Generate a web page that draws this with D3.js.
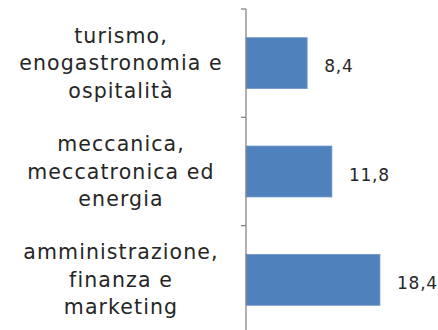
<!DOCTYPE html>
<html>
<head>
<meta charset="utf-8">
<script src="https://cdn.jsdelivr.net/npm/d3@7"></script>
<style>
  html, body { margin: 0; padding: 0; background: #fff; }
  svg { display: block; }
</style>
</head>
<body>
<svg id="chart" width="438" height="330"></svg>
<script>
// Categories (top to bottom) and their values
const categories = [
  ["turismo,", "enogastronomia e", "ospitalità"],
  ["meccanica,", "meccatronica ed", "energia"],
  ["amministrazione,", "finanza e", "marketing"]
];
const values = [8.4, 11.8, 18.4];
const valueLabels = ["8,4", "11,8", "18,4"];

const svg = d3.select("#chart");
const axisX = 246;
const fontFamily = "'DejaVu Sans', sans-serif";

const y = d3.scaleBand()
  .domain(d3.range(categories.length))
  .range([9, 334])
  .paddingInner(0.53)
  .paddingOuter(0.265);

const x = d3.scaleLinear().domain([0, 25]).range([axisX, axisX + 182]);

// Bars
svg.selectAll("rect.bar")
  .data(values)
  .enter().append("rect")
  .attr("class", "bar")
  .attr("x", x(0))
  .attr("y", (d, i) => y(i))
  .attr("width", d => x(d) - x(0))
  .attr("height", y.bandwidth())
  .attr("fill", "#4F81BD")
  .attr("stroke", "#6f98cb")
  .attr("stroke-width", 0.8);

// Vertical category axis with ticks at band boundaries
const step = y.step();
const boundaries = d3.range(categories.length + 1).map(i => 9 + i * step);
svg.append("line")
  .attr("x1", axisX).attr("x2", axisX)
  .attr("y1", 9).attr("y2", 334)
  .attr("stroke", "#868686").attr("stroke-width", 1.3);
svg.selectAll("line.tick")
  .data(boundaries)
  .enter().append("line")
  .attr("class", "tick")
  .attr("x1", axisX - 5).attr("x2", axisX)
  .attr("y1", d => d).attr("y2", d => d)
  .attr("stroke", "#868686").attr("stroke-width", 1.3);

// Category labels
const lineH = 27.5;
categories.forEach((lines, i) => {
  const cy = y(i) + y.bandwidth() / 2;
  const t = svg.append("text")
    .attr("text-anchor", "middle")
    .attr("font-family", fontFamily)
    .attr("font-size", 20.5)
    .attr("letter-spacing", 1.1)
    .attr("fill", "#262626");
  lines.forEach((ln, j) => {
    t.append("tspan")
      .attr("x", 121)
      .attr("y", cy + (j - 1) * lineH + 7)
      .text(ln);
  });
});

// Value labels
svg.selectAll("text.val")
  .data(values)
  .enter().append("text")
  .attr("class", "val")
  .attr("x", d => x(d) + 17)
  .attr("y", (d, i) => y(i) + y.bandwidth() / 2 + 9)
  .attr("font-family", fontFamily)
  .attr("font-size", 17)
  .attr("letter-spacing", 0.8)
  .attr("fill", "#262626")
  .text((d, i) => valueLabels[i]);
</script>
</body>
</html>
